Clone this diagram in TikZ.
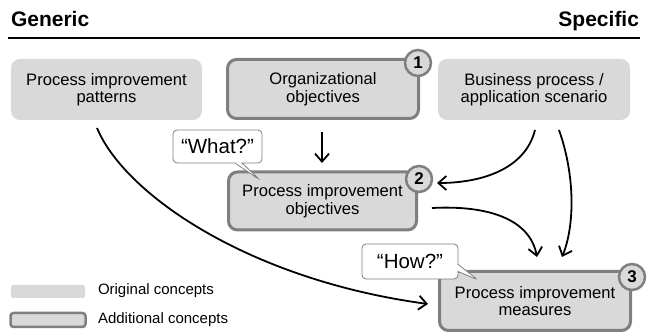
\documentclass[tikz,border=0pt]{standalone}
\usepackage{fontspec}
\setmainfont{Liberation Sans}
\usetikzlibrary{arrows.meta,shapes.callouts}
\definecolor{boxgray}{HTML}{D9D9D9}
\definecolor{bordgray}{HTML}{7F7F7F}
\begin{document}
\begin{tikzpicture}[x=1pt,y=-1pt,
  every node/.style={inner sep=0pt,outer sep=0pt},
  body/.style={font=\fontsize{16.6}{17.5}\selectfont, align=center},
  orig/.style={body, rounded corners=9pt, fill=boxgray, minimum height=61pt},
  addl/.style={orig, draw=bordgray, line width=3pt},
  numc/.style={circle, fill=boxgray, draw=bordgray, line width=2.5pt, minimum size=26pt, font=\fontsize{17}{17}\selectfont\bfseries},
  bubble/.style={rectangle callout, font=\fontsize{20.5}{22}\selectfont, draw=bordgray, line width=0.8pt, fill=white, rounded corners=4pt},
  conn/.style={line width=1.8pt, -{Straight Barb[length=8pt,width=14pt,line width=1.8pt]}},
  legtext/.style={font=\fontsize{15}{18}\selectfont, anchor=west}
]
\useasboundingbox (0,0) rectangle (648,336);
% header
\node[anchor=base west, font=\fontsize{21}{22}\selectfont\bfseries] (gen) at (11,27) {Generic};
\node[anchor=base east, font=\fontsize{21}{22}\selectfont\bfseries] (spec) at (639,27) {Specific};
\coordinate (hl) at (8,38);
\coordinate (hr) at (640,38);
\draw[line width=2.5pt] (hl) -- (hr);
% boxes
\node[orig, minimum width=191pt] (pat) at (106.5,89.5) {Process improvement\\patterns};
\node[addl, minimum width=191pt, minimum height=59pt] (org) at (323,89) {Organizational\\objectives};
\node[orig, minimum width=192pt] (bus) at (534,89.5) {Business process /\\application scenario};
\node[addl, minimum width=188pt, minimum height=58pt] (pio) at (322.5,201) {Process improvement\\objectives};
\node[addl, minimum width=191pt, minimum height=59pt] (pim) at (535,301) {Process improvement\\measures};
% numbers
\node[numc] (n1) at (418,63) {1};
\node[numc] (n2) at (419,179) {2};
\node[numc] (n3) at (632,277) {3};
% callouts
\node[bubble, minimum width=89pt, minimum height=33pt, callout absolute pointer={(260,180)}] (what) at (217.5,146.5) {“What?”};
\node[bubble, minimum width=96pt, minimum height=35pt, callout absolute pointer={(478,280)}] (how) at (410,261.5) {“How?”};
% connectors
\coordinate (orgs) at (322,132);
\coordinate (orge) at (322,163);
\draw[conn] (orgs) -- (orge);
\coordinate (pats) at (97,128);
\coordinate (pime) at (428,304);
\draw[conn] (pats) .. controls (125,195) and (250,280) .. (pime);
\coordinate (bus1) at (535,130);
\coordinate (pioe) at (437,183);
\draw[conn] (bus1) .. controls (525,170) and (480,183) .. (pioe);
\coordinate (bus2) at (559,130);
\coordinate (pimt2) at (562,257);
\draw[conn] (bus2) .. controls (575,175) and (575,225) .. (pimt2);
\coordinate (pios) at (432,208);
\coordinate (pimt1) at (537,257);
\draw[conn] (pios) .. controls (490,205) and (530,220) .. (pimt1);
% legend
\node[fill=boxgray, rounded corners=2pt, minimum width=74pt, minimum height=13pt] (lg1) at (48,291.5) {};
\node[legtext] (lt1) at (98,291) {Original concepts};
\node[fill=boxgray, draw=bordgray, line width=2.5pt, rounded corners=3pt, minimum width=75pt, minimum height=14pt] (lg2) at (48,320) {};
\node[legtext] (lt2) at (98,320) {Additional concepts};
\end{tikzpicture}
\end{document}
